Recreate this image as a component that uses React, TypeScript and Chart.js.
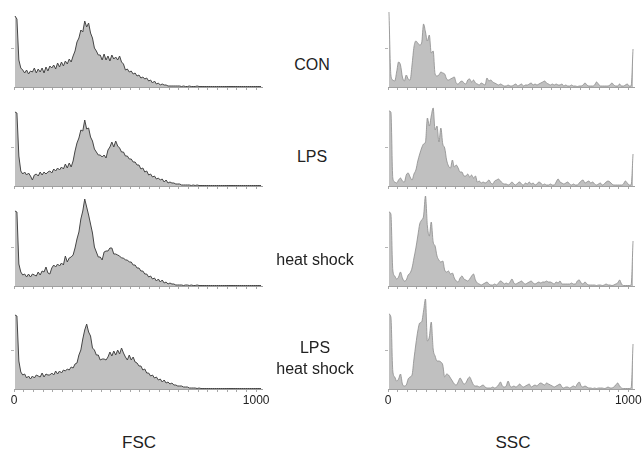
import React, { useEffect, useRef } from 'react';
import { Chart, registerables } from 'chart.js';

Chart.register(...registerables);

// ---- data ---------------------------------------------------------------
const BIN_WIDTH = 8; // channels per histogram bin (128 bins over 0..1023)
const CHANNEL_MAX = 1024;
const X_TICK_STEP = 40;
const X_TICK_LABELS = [0, 1000];
const Y_TICKS = [38];
const Y_MAX = 92;

const ROW_LABELS = [['CON'], ['LPS'], ['heat shock'], ['LPS', 'heat shock']];
const AXIS_TITLES = ['FSC', 'SSC'];

const FSC_CON = [
  71, 68, 27, 19, 17, 14, 17, 13, 16, 15, 19, 14, 18, 15, 19, 14,
  20, 16, 21, 19, 22, 18, 24, 20, 25, 21, 26, 23, 28, 25, 31, 36,
  45, 49, 57, 55, 66, 60, 64, 54, 49, 39, 36, 32, 32, 27, 33, 27,
  31, 26, 32, 28, 30, 27, 31, 25, 23, 17, 18, 15, 16, 13, 14, 11,
  12, 9, 10, 8, 9, 6, 7, 4, 6, 3, 4, 2, 3, 2, 2, 1,
  1, 1, 1, 1, 1, 1, 0.5, 1, 0.5, 0.5, 1, 0.5, 0.5, 0.5, 1, 0.5,
  0.5, 0.5, 0.5, 0.5, 0.5, 0.5, 0.5, 0.5, 0.5, 0.5, 0.5, 0.5, 0.5, 0.5, 0.5, 0.5,
  0.5, 0.5, 0.5, 0.5, 0.5, 0.5, 0.5, 0.5, 0.5, 0.5, 0.5, 0.5, 0.5, 0.5, 0.5, 0.5,
];

const FSC_LPS = [
  74, 73, 30, 15, 12, 14, 11, 13, 10, 6, 11, 12, 10, 14, 11, 14,
  12, 14, 15, 13, 17, 15, 18, 16, 19, 17, 22, 18, 23, 19, 25, 35,
  43, 48, 56, 55, 66, 57, 58, 49, 45, 37, 34, 31, 31, 29, 31, 28,
  36, 39, 44, 39, 45, 40, 38, 34, 34, 30, 30, 27, 27, 24, 24, 21,
  21, 17, 18, 14, 15, 11, 12, 9, 10, 7, 8, 6, 7, 4, 6, 3,
  4, 3, 3, 2, 2, 2, 1, 1, 1, 1, 1, 0.5, 1, 0.5, 1, 0.5,
  0.5, 0.5, 0.5, 0.5, 0.5, 0.5, 0.5, 0.5, 0.5, 0.5, 0.5, 0.5, 0.5, 0.5, 0.5, 0.5,
  0.5, 0.5, 0.5, 0.5, 0.5, 0.5, 0.5, 0.5, 0.5, 0.5, 0.5, 0.5, 0.5, 0.5, 0.5, 0.5,
];

const FSC_HS = [
  75, 74, 22, 14, 11, 12, 9, 12, 9, 12, 11, 10, 14, 11, 15, 14,
  19, 13, 12, 18, 21, 19, 22, 20, 23, 21, 30, 24, 28, 29, 31, 38,
  47, 54, 67, 75, 87, 79, 71, 62, 53, 39, 34, 29, 29, 26, 34, 35,
  35, 38, 38, 32, 32, 31, 30, 28, 28, 26, 26, 24, 24, 21, 21, 18,
  18, 15, 15, 12, 12, 9, 10, 7, 8, 5, 7, 4, 6, 3, 4, 2,
  3, 2, 2, 1, 1, 1, 1, 0.5, 1, 1, 0.5, 1, 0.5, 0.5, 1, 0.5,
  0.5, 0.5, 0.5, 0.5, 0.5, 0.5, 0.5, 0.5, 0.5, 0.5, 0.5, 0.5, 0.5, 0.5, 0.5, 0.5,
  0.5, 0.5, 0.5, 0.5, 0.5, 0.5, 0.5, 0.5, 0.5, 0.5, 0.5, 0.5, 0.5, 0.5, 0.5, 0.5,
];

const FSC_LPS_HS = [
  74, 73, 28, 17, 14, 15, 11, 13, 10, 13, 11, 14, 13, 12, 16, 12,
  15, 14, 14, 16, 14, 18, 15, 18, 16, 19, 18, 20, 19, 22, 21, 25,
  26, 34, 39, 50, 59, 65, 57, 53, 41, 39, 34, 34, 29, 30, 30, 29,
  32, 37, 33, 38, 34, 39, 35, 41, 36, 32, 29, 34, 29, 32, 27, 26,
  23, 23, 19, 20, 16, 16, 13, 14, 11, 12, 9, 10, 7, 9, 6, 7,
  5, 6, 4, 4, 3, 3, 3, 2, 2, 2, 1, 1, 1, 1, 0.5, 1,
  0.5, 0.5, 0.5, 0.5, 0.5, 0.5, 0.5, 0.5, 0.5, 0.5, 0.5, 0.5, 0.5, 0.5, 0.5, 0.5,
  0.5, 0.5, 0.5, 0.5, 0.5, 0.5, 0.5, 0.5, 0.5, 0.5, 0.5, 0.5, 0.5, 0.5, 0.5, 0.5,
];

const SSC_CON = [
  75, 12, 7, 6, 15, 25, 22, 10, 6, 12, 8, 7, 22, 40, 46, 44,
  42, 44, 63, 55, 46, 52, 34, 36, 13, 11, 12, 15, 14, 13, 8, 7,
  8, 9, 10, 4, 3, 5, 6, 4, 3, 7, 8, 5, 7, 4, 3, 2,
  4, 3, 2, 9, 6, 7, 5, 4, 3, 2, 3, 2, 1, 1, 2, 1,
  1, 2, 3, 1, 2, 3, 1, 2, 2, 3, 4, 2, 3, 2, 3, 4,
  5, 6, 4, 3, 2, 3, 2, 3, 2, 2, 3, 1, 2, 1, 1, 2,
  1, 1, 0.5, 1, 1, 2, 4, 2, 1, 1, 1, 2, 5, 3, 1, 1,
  1, 1, 1, 2, 4, 2, 1, 1, 3, 1, 1, 2, 3, 1, 1, 38,
];

const SSC_LPS = [
  75, 74, 8, 4, 3, 6, 8, 5, 4, 11, 13, 9, 6, 12, 16, 25,
  32, 38, 42, 44, 68, 60, 70, 78, 56, 60, 44, 58, 42, 38, 26, 20,
  18, 26, 19, 21, 18, 14, 14, 10, 10, 12, 9, 11, 8, 10, 4, 5,
  3, 4, 3, 4, 6, 3, 2, 5, 6, 7, 5, 3, 2, 2, 1, 2,
  4, 2, 1, 3, 4, 2, 1, 3, 2, 4, 2, 3, 1, 2, 4, 3,
  1, 2, 1, 1, 2, 1, 1, 4, 7, 4, 3, 2, 3, 4, 2, 1,
  2, 1, 1, 3, 5, 6, 3, 4, 5, 3, 4, 2, 1, 2, 3, 1,
  2, 4, 5, 4, 2, 1, 1, 1, 1, 1, 2, 5, 3, 1, 1, 32,
];

const SSC_HS = [
  74, 72, 16, 10, 7, 9, 14, 8, 5, 6, 11, 13, 18, 28, 38, 50,
  62, 66, 70, 90, 60, 50, 64, 44, 40, 30, 26, 24, 25, 16, 14, 15,
  12, 13, 8, 5, 4, 8, 10, 7, 6, 5, 7, 10, 12, 6, 3, 2,
  1, 2, 3, 4, 2, 1, 1, 2, 1, 3, 5, 4, 2, 3, 2, 4,
  7, 3, 2, 3, 4, 5, 3, 2, 3, 4, 5, 3, 2, 3, 4, 3,
  4, 4, 5, 4, 4, 3, 2, 4, 3, 5, 2, 2, 2, 2, 2, 3,
  2, 2, 5, 6, 3, 2, 4, 2, 1, 1, 1, 1, 0.5, 1, 1, 0.5,
  1, 2, 1, 1, 0.5, 1, 2, 3, 6, 2, 0.5, 0.5, 0.5, 0.5, 1, 45,
];

const SSC_LPS_HS = [
  75, 72, 18, 12, 8, 10, 15, 5, 3, 4, 10, 12, 14, 30, 45, 58,
  66, 67, 78, 90, 48, 52, 67, 40, 33, 28, 28, 27, 24, 12, 15, 14,
  11, 8, 5, 4, 7, 11, 8, 5, 6, 10, 12, 8, 4, 3, 3, 2,
  3, 4, 2, 1, 1, 1, 2, 1, 2, 4, 7, 3, 2, 3, 8, 3,
  2, 3, 2, 3, 5, 3, 2, 3, 4, 5, 2, 3, 4, 3, 5, 6,
  5, 4, 6, 5, 4, 3, 2, 3, 4, 5, 2, 1, 2, 2, 1, 2,
  3, 2, 5, 7, 3, 2, 3, 2, 1, 1, 0.5, 1, 0.5, 1, 1, 1,
  0.5, 1, 2, 1, 1, 2, 4, 6, 3, 1, 0.5, 0.5, 0.5, 0.5, 1, 45,
];

const FSC_SERIES = [FSC_CON, FSC_LPS, FSC_HS, FSC_LPS_HS];
const SSC_SERIES = [SSC_CON, SSC_LPS, SSC_HS, SSC_LPS_HS];

// ---- layout -------------------------------------------------------------
const PLOT_H = 92;
const PAD_L = 6;
const PAD_R = 18;
const PAD_T = 2;
const BASELINES = [87, 186, 286, 389];
const COLS = [
  { left: 14, width: 248, series: FSC_SERIES, line: '#454545', lw: 1, smooth: false, titleX: 139 },
  { left: 388, width: 246, series: SSC_SERIES, line: '#8c8c8c', lw: 0.8, smooth: true, titleX: 513 },
];
const LABEL_POS = [
  [{ x: 312, y: 65 }],
  [{ x: 312, y: 157 }],
  [{ x: 315, y: 260 }],
  [{ x: 315, y: 348 }, { x: 315, y: 369 }],
];
const FONT = '"Liberation Sans", Arial, Helvetica, sans-serif';

type HistProps = {
  values: number[];
  left: number;
  plotWidth: number;
  baseline: number;
  showLabels: boolean;
  smooth: boolean;
  lineColor: string;
  lineWidth: number;
};

function Histogram({ values, left, plotWidth, baseline, showLabels, smooth, lineColor, lineWidth }: HistProps) {
  const ref = useRef<HTMLCanvasElement>(null);
  const axisH = showLabels ? 22 : 5;
  const w = PAD_L + plotWidth + PAD_R;
  const h = PAD_T + PLOT_H + axisH;

  useEffect(() => {
    if (!ref.current) return;
    const points = values.map((v, i) => ({ x: i * BIN_WIDTH + BIN_WIDTH / 2, y: v }));
    const chart = new Chart(ref.current, {
      type: 'line',
      data: {
        datasets: [
          {
            data: points,
            fill: 'origin',
            backgroundColor: '#c0c0c0',
            borderColor: lineColor,
            borderWidth: lineWidth,
            pointRadius: 0,
            tension: 0,
            cubicInterpolationMode: smooth ? 'monotone' : 'default',
          },
        ],
      },
      options: {
        responsive: false,
        animation: false,
        events: [],
        layout: { padding: { left: 0, right: PAD_R, top: PAD_T, bottom: 0 } },
        plugins: { legend: { display: false }, tooltip: { enabled: false } },
        scales: {
          x: {
            type: 'linear',
            min: 0,
            max: CHANNEL_MAX,
            afterFit: (s: any) => {
              s.height = axisH;
              s.paddingLeft = 0;
              s.paddingRight = 0;
            },
            border: { color: '#a0a0a0', width: 1 },
            grid: { drawOnChartArea: false, tickLength: 3, color: '#a8a8a8' },
            ticks: {
              stepSize: X_TICK_STEP,
              includeBounds: false,
              autoSkip: false,
              maxRotation: 0,
              display: showLabels,
              padding: 1,
              color: '#222',
              font: { family: FONT, size: 12 },
              callback: (v: any) => (X_TICK_LABELS.includes(Number(v)) ? String(v) : ''),
            },
          },
          y: {
            min: 0,
            max: Y_MAX,
            afterFit: (s: any) => {
              s.width = PAD_L;
              s.paddingTop = 0;
              s.paddingBottom = 0;
            },
            afterBuildTicks: (s: any) => {
              s.ticks = Y_TICKS.map((v) => ({ value: v }));
            },
            border: { display: false },
            grid: { drawOnChartArea: false, tickLength: 3, color: '#b5b5b5' },
            ticks: { display: false },
          },
        },
      },
    } as any);
    return () => chart.destroy();
  }, [values, showLabels, smooth, lineColor, lineWidth, plotWidth]);

  return (
    <canvas
      ref={ref}
      width={w}
      height={h}
      style={{
        position: 'absolute',
        left: left - PAD_L,
        top: baseline - PLOT_H - PAD_T,
        width: w,
        height: h,
      }}
    />
  );
}

const textStyle = (x: number, y: number, size: number): React.CSSProperties => ({
  position: 'absolute',
  left: x,
  top: y,
  transform: 'translate(-50%, -50%)',
  fontFamily: FONT,
  fontSize: size,
  color: '#222',
  whiteSpace: 'nowrap',
  lineHeight: 1,
});

export default function App() {
  return (
    <div
      style={{
        position: 'absolute',
        left: 0,
        top: 0,
        width: 642,
        height: 450,
        overflow: 'hidden',
        background: '#fff',
      }}
    >
      {COLS.map((col, c) =>
        col.series.map((values, r) => (
          <Histogram
            key={`${c}-${r}`}
            values={values}
            left={col.left}
            plotWidth={col.width}
            baseline={BASELINES[r]}
            showLabels={r === BASELINES.length - 1}
            smooth={col.smooth}
            lineColor={col.line}
            lineWidth={col.lw}
          />
        ))
      )}
      {ROW_LABELS.map((lines, r) =>
        lines.map((txt, k) => (
          <div key={`l-${r}-${k}`} style={textStyle(LABEL_POS[r][k].x, LABEL_POS[r][k].y, 16)}>
            {txt}
          </div>
        ))
      )}
      {COLS.map((col, c) => (
        <div key={`t-${c}`} style={textStyle(col.titleX, 442, 17)}>
          {AXIS_TITLES[c]}
        </div>
      ))}
    </div>
  );
}
